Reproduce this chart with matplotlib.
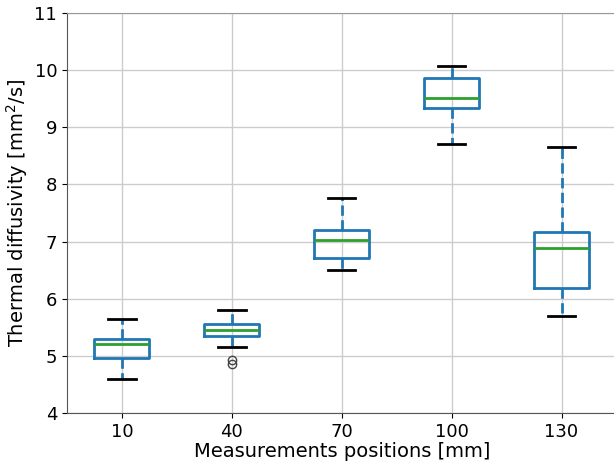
import matplotlib
matplotlib.use("Agg")
import matplotlib.pyplot as plt

# Box statistics
positions_mm = ["10", "40", "70", "100", "130"]
whisker_low = [4.60, 5.15, 6.51, 8.71, 5.69]
q1_values = [4.97, 5.35, 6.72, 9.34, 6.18]
median_values = [5.20, 5.45, 7.02, 9.51, 6.89]
q3_values = [5.30, 5.55, 7.21, 9.87, 7.17]
whisker_high = [5.65, 5.80, 7.77, 10.08, 8.66]
outliers = [[], [4.93, 4.86], [], [], []]

stats = []
for i, label in enumerate(positions_mm):
    stats.append({
        "label": label,
        "whislo": whisker_low[i],
        "q1": q1_values[i],
        "med": median_values[i],
        "q3": q3_values[i],
        "whishi": whisker_high[i],
        "fliers": outliers[i],
    })

fig = plt.figure(figsize=(6.14, 4.63), dpi=100)
ax = fig.add_axes([0.109, 0.108, 0.895, 0.864])

ax.bxp(
    stats,
    widths=0.5,
    boxprops=dict(color="#1f77b4", linewidth=2),
    whiskerprops=dict(color="#1f77b4", linewidth=2, linestyle="--"),
    capprops=dict(color="black", linewidth=2),
    medianprops=dict(color="#2ca02c", linewidth=2),
    flierprops=dict(marker="o", markerfacecolor="none", markeredgecolor="#444444", markersize=6),
)

ax.set_ylim(4, 11)
ax.set_xlim(0.5, 5.5)
ax.set_yticks(range(4, 12))
ax.grid(True, color="#cccccc", linewidth=1)
ax.set_axisbelow(True)
ax.tick_params(labelsize=13)
ax.set_xlabel("Measurements positions [mm]", fontsize=14, labelpad=1)
ax.set_ylabel("Thermal diffusivity [mm$^2$/s]", fontsize=14, labelpad=3)
for spine in ax.spines.values():
    spine.set_color("#555555")
ax.spines["top"].set_color("#999999")

fig.savefig("out.png", dpi=100)
